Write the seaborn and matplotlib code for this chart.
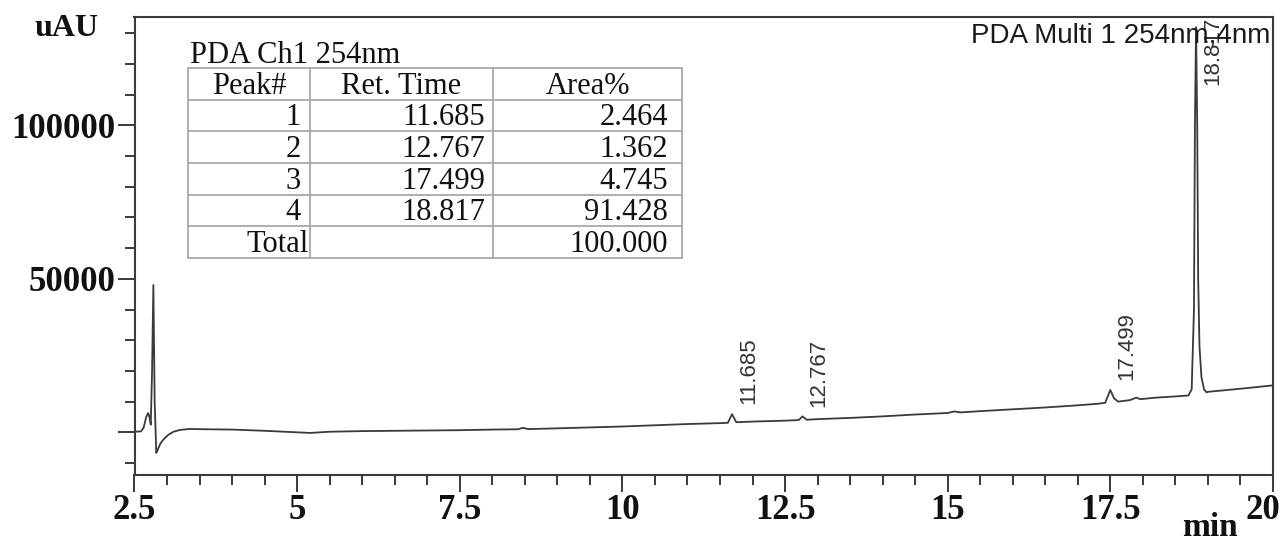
import matplotlib
matplotlib.use("Agg")
import matplotlib.pyplot as plt
import matplotlib.transforms as mtransforms
from matplotlib.lines import Line2D
from matplotlib.ticker import MultipleLocator
import pandas as pd
import seaborn as sns

# Detector trace, PDA 254 nm (time in min, signal in uAU)
time_min = [
    2.50, 2.60, 2.64, 2.68, 2.71, 2.73, 2.75, 2.77, 2.79, 2.81, 2.835, 2.86,
    2.90, 2.95, 3.02, 3.10, 3.20, 3.35, 3.60, 4.00, 4.50, 5.00, 5.20, 5.50,
    6.00, 6.50, 7.00, 7.50, 8.00, 8.40, 8.47, 8.55, 9.00, 9.50, 10.00, 10.50,
    11.00, 11.50, 11.62, 11.685, 11.75, 12.00, 12.50, 12.71, 12.767, 12.83,
    13.00, 13.50, 14.00, 14.50, 15.00, 15.10, 15.20, 15.50, 16.00, 16.50,
    17.00, 17.30, 17.42, 17.499, 17.56, 17.62, 17.80, 17.90, 17.96, 18.20,
    18.50, 18.70, 18.75, 18.785, 18.80, 18.817, 18.835, 18.85, 18.87, 18.90,
    18.94, 18.98, 19.00, 19.50, 20.00,
]
signal_uau = [
    200, 300, 1500, 5000, 6300, 5000, 2500, 20000, 48000, 10000, -6700, -5500,
    -3600, -2200, -800, 200, 800, 1100, 1000, 900, 500, 0, -200, 200,
    400, 500, 600, 700, 900, 1000, 1500, 1050, 1300, 1600, 1900, 2300,
    2700, 3000, 3100, 5900, 3300, 3500, 3800, 4000, 5200, 4100,
    4300, 4700, 5200, 5800, 6300, 6800, 6500, 6900, 7500, 8100,
    8800, 9300, 9600, 13800, 11000, 10000, 10500, 11300, 10800, 11300,
    11700, 12000, 14000, 40000, 100000, 132000, 100000, 50000, 28000, 18000,
    14000, 13000, 13200, 14200, 15300,
]

# Peak table
peak_no = ["1", "2", "3", "4"]
ret_time = [11.685, 12.767, 17.499, 18.817]
area_pct = [2.464, 1.362, 4.745, 91.428]
total_label = "Total"
total_area = "100.000"

x_ticks = [2.5, 5, 7.5, 10, 12.5, 15, 17.5, 20]
x_tick_labels = ["2.5", "5", "7.5", "10", "12.5", "15", "17.5", "20"]
y_ticks = [0, 50000, 100000]
y_tick_labels = ["", "50000", "100000"]

W, H = 1283, 544
sns.set_style("ticks")
serif = ["Liberation Serif", "DejaVu Serif"]
sans = ["Liberation Sans", "DejaVu Sans"]
plt.rcParams["font.family"] = serif

ink = "#333333"
fig = plt.figure(figsize=(W / 100, H / 100), dpi=100)
fig.patch.set_facecolor("white")
ax = fig.add_axes([134.5 / W, 1 - 475 / H, (1273 - 134.5) / W, (475 - 17) / H])
ax.set_facecolor("white")

df = pd.DataFrame({"time": time_min, "signal": signal_uau})
sns.lineplot(data=df, x="time", y="signal", ax=ax, color="#3a3a3a",
             linewidth=1.3, estimator=None, sort=False)

ax.set_xlim(2.5, 20)
ax.set_ylim(-13900, 135300)
ax.set_xlabel("")
ax.set_ylabel("")

for s in ax.spines.values():
    s.set_visible(True)
    s.set_color("#3a3a3a")
    s.set_linewidth(1.5)

ax.set_xticks(x_ticks, x_tick_labels)
ax.set_yticks(y_ticks, y_tick_labels)
ax.xaxis.set_minor_locator(MultipleLocator(0.5))
ax.yaxis.set_minor_locator(MultipleLocator(10000))
ax.tick_params(axis="both", which="major", length=12, width=1.4, color="#3a3a3a",
               direction="out", labelsize=25, labelcolor="#111111", pad=2)
ax.tick_params(axis="both", which="minor", length=7, width=1.4, color="#3a3a3a",
               direction="out")
for lab in ax.get_xticklabels() + ax.get_yticklabels():
    lab.set_fontweight("bold")
    lab.set_family(serif)
# keep the last time label inside the figure edge
last = ax.get_xticklabels()[-1]
last.set_transform(last.get_transform()
                   + mtransforms.ScaledTranslation(-10 / 100, 0, fig.dpi_scale_trans))


def fx(px):
    return px / W


def fy(py):
    return 1 - py / H


# axis captions
fig.text(fx(66), fy(29), "uAU", ha="center", va="center", fontsize=23,
         fontweight="bold", family=serif, color="#111111")
fig.text(fx(1210), fy(536), "min", ha="center", va="baseline", fontsize=24,
         fontweight="bold", family=serif, color="#111111")

# channel caption
fig.text(fx(1270), fy(43), "PDA Multi 1 254nm,4nm", ha="right", va="baseline",
         fontsize=20, family=sans, color="#1a1a1a")

# retention-time labels above each peak
for t in ret_time:
    apex = signal_uau[time_min.index(t)]
    ax.annotate(f"{t:.3f}", xy=(t, min(apex, 110000)), xytext=(12, 7),
                textcoords="offset points", rotation=90, ha="center", va="bottom",
                fontsize=16, family=sans, color=ink, annotation_clip=False)

# peak table
fig.text(fx(190), fy(63), "PDA Ch1 254nm", ha="left", va="baseline",
         fontsize=22, family=serif, color="#111111")
col_edges = [188, 310, 493, 682]
row_edges = [68, 99.7, 131.3, 163, 194.7, 226.3, 258]
grid = "#a8a8a8"
for xe in col_edges:
    fig.add_artist(Line2D([fx(xe), fx(xe)], [fy(row_edges[0]), fy(row_edges[-1])],
                          transform=fig.transFigure, color=grid, lw=1.3))
for ye in row_edges:
    fig.add_artist(Line2D([fx(col_edges[0]), fx(col_edges[-1])], [fy(ye), fy(ye)],
                          transform=fig.transFigure, color=grid, lw=1.3))

tkw = dict(fontsize=22, family=serif, color="#111111", va="baseline")
header = ["Peak#", "Ret. Time", "Area%"]
for i, h in enumerate(header):
    xc = (col_edges[i] + col_edges[i + 1]) / 2
    fig.text(fx(xc), fy(row_edges[1] - 6), h, ha="center", **tkw)
for r, (n, t, a) in enumerate(zip(peak_no, ret_time, area_pct)):
    yb = row_edges[r + 2] - 6
    fig.text(fx(301), fy(yb), n, ha="right", **tkw)
    fig.text(fx(485), fy(yb), f"{t:.3f}", ha="right", **tkw)
    fig.text(fx(668), fy(yb), f"{a:.3f}", ha="right", **tkw)
yb = row_edges[-1] - 6
fig.text(fx(309), fy(yb), total_label, ha="right", **tkw)
fig.text(fx(668), fy(yb), total_area, ha="right", **tkw)

fig.savefig("out.png", dpi=100, facecolor="white")
